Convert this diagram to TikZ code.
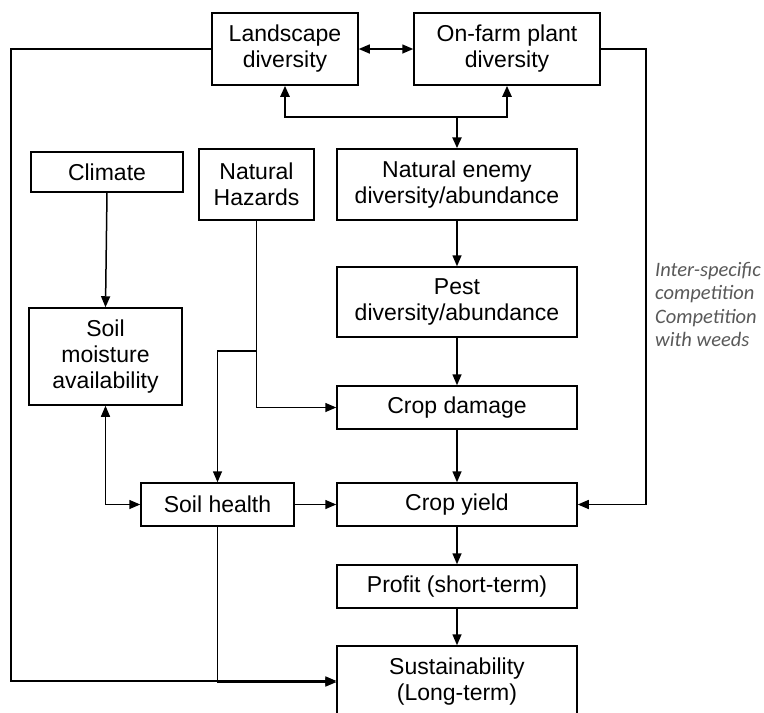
\documentclass[tikz,border=0pt]{standalone}
\usepackage{fontspec}
\setmainfont{Liberation Sans}
\newfontfamily\notefont{Carlito}
\usetikzlibrary{arrows.meta}
\definecolor{notegray}{RGB}{89,89,89}
\begin{document}
\begin{tikzpicture}[x=1pt,y=-1pt,
  box/.style={draw, line width=1.5pt, align=center, inner sep=0pt,
    font=\fontsize{23}{26}\selectfont},
  tip/.style={-{Triangle[length=11pt,width=9pt]}},
  tips/.style={{Triangle[length=11pt,width=9pt]}-{Triangle[length=11pt,width=9pt]}},
  link/.style={line width=1.5pt, tip},
  link2/.style={line width=1.5pt, tips},
  hub/.style={line width=2.4pt, tip},
  note/.style={align=left, inner sep=0pt, text=notegray,
    font=\notefont\itshape\fontsize{20.5}{23.5}\selectfont}]
\useasboundingbox (0,0) rectangle (764,713);

% boxes
\node[box, minimum width=146pt, minimum height=72pt] (land) at (285,49) {Landscape\\diversity};
\node[box, minimum width=186pt, minimum height=72pt] (farm) at (507,49) {On-farm plant\\diversity};
\node[box, minimum width=240pt, minimum height=71pt] (enemy) at (457,184.5) {Natural enemy\\diversity/abundance};
\node[box, minimum width=152pt, minimum height=40pt] (climate) at (107,172) {Climate};
\node[box, minimum width=115pt, minimum height=71pt] (hazards) at (256.5,184.5) {Natural\\Hazards};
\node[box, minimum width=240pt, minimum height=70pt] (pest) at (457,302) {Pest\\diversity/abundance};
\node[box, minimum width=153pt, minimum height=97pt] (moist) at (105.5,356.5) {Soil\\moisture\\availability};
\node[box, minimum width=240pt, minimum height=43pt] (damage) at (457,407.5) {Crop damage};
\node[box, minimum width=153pt, minimum height=43pt] (health) at (217.5,504.5) {Soil health};
\node[box, minimum width=240pt, minimum height=43pt] (yield) at (457,504.5) {Crop yield};
\node[box, minimum width=240pt, minimum height=43pt] (profit) at (457,586.5) {Profit (short-term)};
\node[box, minimum width=240pt, minimum height=71pt] (sustain) at (457,681.5) {Sustainability\\(Long-term)};

% side note
\node[note, anchor=north west] (comp) at (655,262) {Inter-specific\\competition\\Competition\\with weeds};

% routing points
\coordinate (hub) at (457,117);
\coordinate (hb) at (256.5,351);
\coordinate (lc) at (11,49);
\coordinate (rc) at (646,49);

% connectors
\draw[link2] (land.east) -- (farm.west);
\draw[hub] (hub) -- (enemy.north);
\draw[hub] (hub) -| (land.south);
\draw[hub] (hub) -| (farm.south);
\draw[link] (enemy.south) -- (pest.north);
\draw[link] (pest.south) -- (damage.north);
\draw[link] (climate.south) -- (moist.north);
\draw[link] (hazards.south) |- (damage.west);
\draw[link] (hb) -| (health.north);
\draw[link2] (moist.south) |- (health.west);
\draw[link] (health.east) -- (yield.west);
\draw[link] (damage.south) -- (yield.north);
\draw[link] (yield.south) -- (profit.north);
\draw[link] (profit.south) -- (sustain.north);
\draw[link] (health.south) |- ([yshift=-0.6pt]sustain.west);
\draw[link] (land.west) -- (lc) |- ([yshift=0.6pt]sustain.west);
\draw[link] (farm.east) -- (rc) |- (yield.east);
\end{tikzpicture}
\end{document}
